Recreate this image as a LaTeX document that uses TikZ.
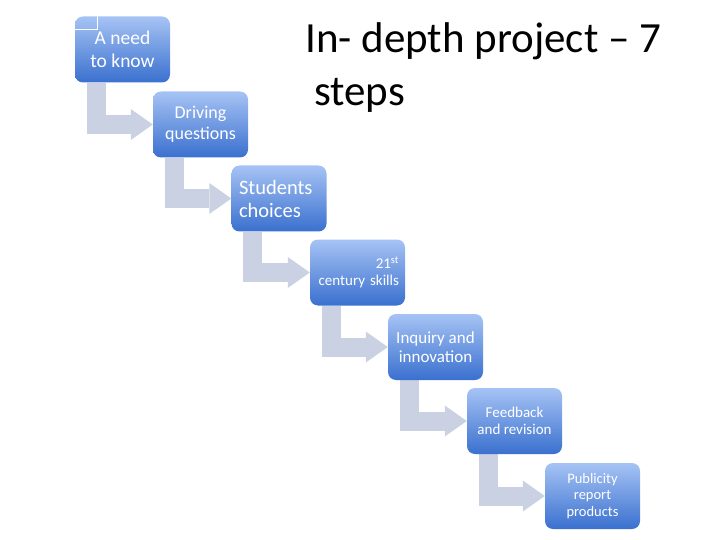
\documentclass[tikz,border=0pt]{standalone}
\usepackage{fontspec}
\setmainfont{Carlito}
\usetikzlibrary{arrows.meta,backgrounds}

\definecolor{boxtop}{HTML}{A6C3F4}
\definecolor{boxbottom}{HTML}{3A70CF}
\definecolor{arrowgray}{HTML}{C9D1E2}

\tikzset{
  stepbox/.style={
    rounded corners=8pt,
    top color=boxtop,
    bottom color=boxbottom,
    minimum width=95pt,
    minimum height=66pt,
    inner sep=0pt,
    text=white,
    align=center
  },
  steparrow/.style={
    draw=arrowgray,
    line width=19pt,
    line join=miter,
    -{Triangle[length=22pt 0 0,width=31pt 0 0,line width=0pt 0 0,fill=arrowgray]}
  }
}

\begin{document}
\begin{tikzpicture}[x=1pt,y=-1pt]
  \useasboundingbox (0,0) rectangle (720,540);

  % Titel
  \node[anchor=base west,inner sep=0pt,font=\fontsize{43}{53}\selectfont]
    (title) at (305,52.5) {In- depth project – 7};
  \node[anchor=base west,inner sep=0pt,font=\fontsize{43}{53}\selectfont]
    (titlesteps) at (314,105.5) {steps};

  % Die sieben Schritte
  \node[stepbox,font=\fontsize{19.5}{22.5}\selectfont]
    (n1) at (122.5,49.5) {A need\\to know};
  \node[stepbox,font=\fontsize{18}{21}\selectfont]
    (n2) at (200.5,124.5) {Driving\\questions};
  \node[stepbox,font=\fontsize{20.5}{23}\selectfont,
        text width=80pt,align=left]
    (n3) at (279,198.5) {Students\\choices};
  \node[stepbox,font=\fontsize{15}{16.5}\selectfont,
        text width=83pt,align=right]
    (n4) at (357.5,272.5) {21\textsuperscript{st}\\century skills};
  \node[stepbox,font=\fontsize{17}{18.5}\selectfont]
    (n5) at (435.5,347) {Inquiry and\\innovation};
  \node[stepbox,font=\fontsize{15}{16.5}\selectfont]
    (n6) at (514.5,421) {Feedback\\and revision};
  \node[stepbox,font=\fontsize{14.5}{16.5}\selectfont]
    (n7) at (592.5,496) {Publicity\\report\\products};

  % Feine weisse Linie oben links
  \draw[white,line width=0.7pt]
    ([yshift=-13pt]n1.north west) -| ([xshift=23pt]n1.north west);

  % Pfeile hinter den Kaesten
  \begin{scope}[on background layer]
    \draw[steparrow] ([xshift=-26.5pt]n1.south) |- (n2.west);
    \draw[steparrow] ([xshift=-26.5pt]n2.south) |- (n3.west);
    \draw[steparrow] ([xshift=-26.5pt]n3.south) |- (n4.west);
    \draw[steparrow] ([xshift=-26.5pt]n4.south) |- (n5.west);
    \draw[steparrow] ([xshift=-26.5pt]n5.south) |- (n6.west);
    \draw[steparrow] ([xshift=-26.5pt]n6.south) |- (n7.west);
  \end{scope}
\end{tikzpicture}
\end{document}
